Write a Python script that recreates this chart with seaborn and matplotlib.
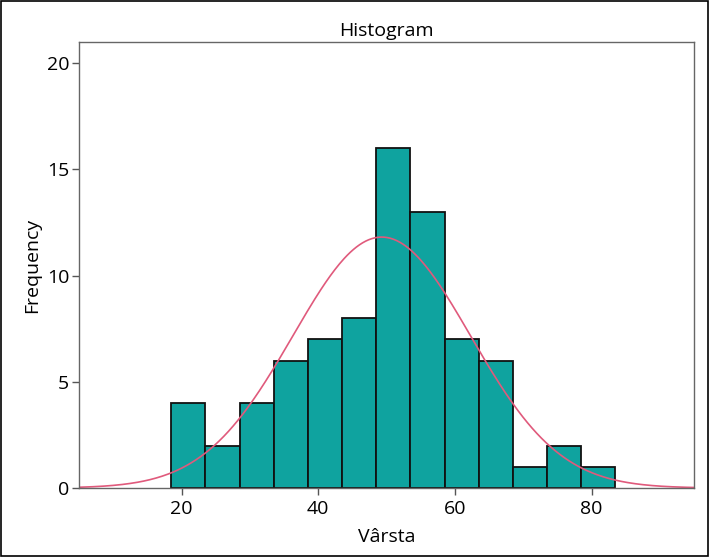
import numpy as np
import pandas as pd
import matplotlib
matplotlib.use("Agg")
import matplotlib.pyplot as plt
import seaborn as sns

# Data
bin_start = 18.5
bin_width = 5.0
counts = [4, 2, 4, 6, 7, 8, 16, 13, 7, 6, 1, 2, 1]
normal_mean = 49.3
normal_sd = 13.0
x_ticks = [20, 40, 60, 80]
y_ticks = [0, 5, 10, 15, 20]

edges = bin_start + bin_width * np.arange(len(counts) + 1)
centers = (edges[:-1] + edges[1:]) / 2
values = np.repeat(centers, counts)
df = pd.DataFrame({"Vârsta": values})

sns.set_style("white")
plt.rcParams['font.family'] = ['Open Sans', 'DejaVu Sans']
plt.rcParams['text.color'] = 'black'
plt.rcParams['axes.labelcolor'] = 'black'
plt.rcParams['xtick.color'] = 'black'
plt.rcParams['ytick.color'] = 'black'

fig = plt.figure(figsize=(7.09, 5.57), dpi=100)
ax = fig.add_axes([79 / 709, 1 - 488 / 557, (694 - 79) / 709, (488 - 42) / 557])

sns.histplot(data=df, x="Vârsta", bins=edges, color="#0FA39F", alpha=1.0,
             edgecolor="#111111", linewidth=1.3, ax=ax)

xs = np.linspace(5, 95, 400)
n = sum(counts)
ys = n * bin_width / (normal_sd * np.sqrt(2 * np.pi)) * np.exp(-0.5 * ((xs - normal_mean) / normal_sd) ** 2)
sns.lineplot(x=xs, y=ys, color="#E05A7C", linewidth=1.2, ax=ax)

ax.set_xlim(5, 95)
ax.set_ylim(0, 21)
ax.set_xticks(x_ticks)
ax.set_yticks(y_ticks)
ax.tick_params(axis="both", direction="out", length=5, width=1, color="#555555",
               labelsize=14, pad=2, bottom=True, left=True)
ax.tick_params(axis="x", pad=4)
for s in ax.spines.values():
    s.set_color("#666666")
    s.set_linewidth(1.0)
ax.set_xlabel("Vârsta", fontsize=14, labelpad=7)
ax.set_ylabel("Frequency", fontsize=14, labelpad=4)
ax.set_title("Histogram", fontsize=14, pad=4)

# outer frame
fig.patches.append(plt.Rectangle((0.002, 0.002), 0.996, 0.996, transform=fig.transFigure,
                                 fill=False, edgecolor="black", linewidth=1.2))

fig.savefig("out.png", dpi=100)
